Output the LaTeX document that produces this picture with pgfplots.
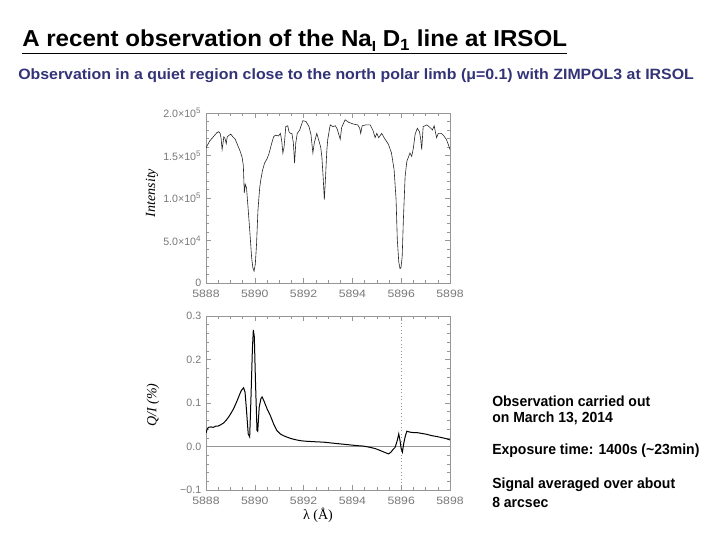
\documentclass[border=0pt]{standalone}
\usepackage{fontspec}
\setmainfont{Liberation Sans}
\newfontfamily\serif{Liberation Serif}
\usepackage{pgfplots}
\pgfplotsset{compat=1.18}
\usepackage{graphicx}
\definecolor{subblue}{RGB}{51,51,120}
\definecolor{axgray}{RGB}{150,150,150}
\definecolor{tkgray}{RGB}{120,120,120}
\pgfplotsset{
  common/.style={
    scale only axis,
    width=183pt,
    xmin=5888, xmax=5898,
    xtick={5888,5890,5892,5894,5896,5898},
    xticklabels={5888,5890,5892,5894,5896,5898},
    minor x tick num=3,
    minor y tick num=4,
    scaled y ticks=false,
    tick align=inside,
    tick pos=both,
    major tick length=4pt,
    minor tick length=2pt,
    axis line style={axgray, line width=0.5pt},
    every tick/.style={axgray, line width=0.4pt},
    ticklabel style={font=\fontsize{8}{9}\selectfont, text=tkgray},
    xticklabel style={yshift=-2pt, xscale=1.15},
    /pgf/number format/assume math mode=true,
    clip=true,
  }
}
\begin{document}
\begin{tikzpicture}[x=0.75pt,y=0.75pt]
\path[use as bounding box] (0,0) rectangle (720,540);

% Title
\node[anchor=west, inner sep=0pt] at (22,498)
  {\scalebox{1.045}[1]{\fontsize{17.3}{20}\selectfont\bfseries\underline{A recent observation of the Na\raisebox{-0.35ex}{\fontsize{11}{12}\selectfont I} D\textsubscript{1} line at IRSOL}}};
% Subtitle
\node[anchor=west, inner sep=0pt, text=subblue] at (18,464)
  {\scalebox{1.065}[1]{\fontsize{11.2}{13}\selectfont\bfseries Observation in a quiet region close to the north polar limb (μ=0.1) with ZIMPOL3 at IRSOL}};

% Top: intensity
\begin{axis}[common,
  at={(154.5pt,192.75pt)}, anchor=south west,
  height=127.5pt,
  ymin=0, ymax=200000,
  ytick={0,50000,100000,150000,200000},
  yticklabels={0, 5.0×10\textsuperscript{4}, 1.0×10\textsuperscript{5}, 1.5×10\textsuperscript{5}, 2.0×10\textsuperscript{5}},
]
\addplot[black!85, line width=0.45pt] coordinates {
(5888.00,159000)(5888.15,167000)(5888.30,172000)(5888.45,177000)(5888.52,178000)(5888.58,176000)
(5888.62,170000)(5888.66,157000)(5888.70,165000)(5888.73,172000)(5888.78,170000)(5888.83,164000)
(5888.87,172000)(5888.95,174000)(5889.02,175000)(5889.10,172000)(5889.20,169000)(5889.30,162000)
(5889.40,155000)(5889.48,148000)(5889.53,138000)(5889.57,106000)(5889.61,116000)(5889.66,112000)
(5889.72,90000)(5889.80,59000)(5889.87,30000)(5889.92,18000)(5889.97,14000)(5890.02,22000)
(5890.07,45000)(5890.13,86000)(5890.20,112000)(5890.25,122000)(5890.32,133000)(5890.40,141000)
(5890.50,146000)(5890.58,152000)(5890.68,163000)(5890.77,172000)(5890.85,174000)(5890.97,173000)
(5891.05,176000)(5891.10,168000)(5891.15,153000)(5891.20,160000)(5891.27,184000)(5891.35,185000)
(5891.40,178000)(5891.46,176000)(5891.52,176000)(5891.58,165000)(5891.63,141000)(5891.68,165000)
(5891.74,176000)(5891.84,180000)(5891.97,191000)(5892.10,190000)(5892.22,184000)(5892.30,175000)
(5892.38,153000)(5892.44,165000)(5892.54,176000)(5892.62,168000)(5892.70,160000)(5892.75,148000)
(5892.80,125000)(5892.85,98000)(5892.90,125000)(5892.95,155000)(5892.99,169000)(5893.09,186000)
(5893.20,184000)(5893.30,185000)(5893.38,181000)(5893.44,175000)(5893.50,169000)(5893.56,183000)
(5893.70,192000)(5893.85,189000)(5894.04,187000)(5894.22,186000)(5894.30,182000)(5894.34,176000)
(5894.40,185000)(5894.55,186000)(5894.73,186000)(5894.85,179000)(5894.93,171000)(5895.00,176000)
(5895.08,171000)(5895.20,176000)(5895.32,170000)(5895.48,163000)(5895.60,153000)(5895.71,133000)
(5895.79,98000)(5895.84,51000)(5895.90,25000)(5895.95,17000)(5895.99,18000)(5896.04,31000)
(5896.09,75000)(5896.16,125000)(5896.23,143000)(5896.36,153000)(5896.43,149000)(5896.50,159000)
(5896.57,175000)(5896.66,182000)(5896.75,178000)(5896.80,169000)(5896.84,157000)(5896.90,184000)
(5897.05,186000)(5897.18,183000)(5897.28,180000)(5897.35,185000)(5897.45,171000)(5897.52,176000)
(5897.65,176000)(5897.75,173000)(5897.85,169000)(5897.93,163000)(5898.00,157000)
};
\end{axis}

% Bottom: Q/I
\begin{axis}[common,
  at={(154.5pt,37.5pt)}, anchor=south west,
  height=130.5pt,
  ymin=-0.1, ymax=0.3,
  ytick={-0.1,0,0.1,0.2,0.3},
  yticklabels={−0.1,0.0,0.1,0.2,0.3},
]
\addplot[axgray, line width=0.5pt] coordinates {(5888,0)(5898,0)};
\addplot[axgray, dotted, line width=0.6pt] coordinates {(5896,-0.1)(5896,0.3)};
\addplot[black, line width=0.75pt] coordinates {
(5888.00,0.031)(5888.05,0.040)(5888.10,0.044)(5888.20,0.045)(5888.30,0.044)(5888.40,0.047)
(5888.50,0.047)(5888.60,0.050)(5888.72,0.054)(5888.82,0.060)(5888.93,0.068)(5889.03,0.077)
(5889.13,0.087)(5889.22,0.098)(5889.31,0.110)(5889.38,0.120)(5889.45,0.129)(5889.54,0.135)
(5889.60,0.125)(5889.66,0.083)(5889.73,0.029)(5889.79,0.022)(5889.84,0.106)(5889.90,0.222)
(5889.94,0.268)(5889.98,0.252)(5890.03,0.145)(5890.09,0.037)(5890.12,0.035)(5890.18,0.090)
(5890.25,0.110)(5890.30,0.114)(5890.38,0.104)(5890.50,0.087)(5890.63,0.072)(5890.77,0.052)
(5890.90,0.037)(5891.04,0.029)(5891.17,0.025)(5891.30,0.022)(5891.50,0.018)(5891.72,0.015)
(5891.92,0.013)(5892.13,0.012)(5892.45,0.011)(5892.82,0.010)(5893.15,0.008)(5893.50,0.006)
(5893.85,0.004)(5894.18,0.002)(5894.45,0.001)(5894.73,-0.002)(5894.95,-0.005)(5895.13,-0.009)
(5895.30,-0.013)(5895.48,-0.017)(5895.58,-0.013)(5895.68,-0.006)(5895.75,-0.002)(5895.84,0.014)
(5895.90,0.029)(5895.95,0.014)(5896.00,-0.005)(5896.05,-0.013)(5896.10,0.006)(5896.16,0.022)
(5896.23,0.035)(5896.36,0.033)(5896.50,0.032)(5896.64,0.032)(5896.85,0.030)(5897.05,0.028)
(5897.25,0.025)(5897.45,0.023)(5897.70,0.020)(5897.85,0.018)(5898.00,0.015)
};
\end{axis}

% Axis labels
\node[rotate=90] at (152,347) {\serif\itshape\fontsize{10.5}{12}\selectfont Intensity};
\node[rotate=90] at (153,135) {\serif\itshape\fontsize{10.5}{12}\selectfont Q/I (\%)};
\node at (318,25) {\serif\fontsize{10.5}{12}\selectfont λ (Å)};

% Right text
\begin{scope}[every node/.style={anchor=west, inner sep=0pt, font=\fontsize{11}{13}\selectfont\bfseries}]
\node at (492,139) {\scalebox{0.955}[1]{Observation carried out}};
\node at (492,122) {\scalebox{0.955}[1]{on March 13, 2014}};
\node at (492,89) {\scalebox{0.955}[1]{Exposure time: 1400s (\textasciitilde23min)}};
\node at (492,55) {\scalebox{0.955}[1]{Signal averaged over about}};
\node at (492,38) {\scalebox{0.955}[1]{8 arcsec}};
\end{scope}
\end{tikzpicture}
\end{document}
